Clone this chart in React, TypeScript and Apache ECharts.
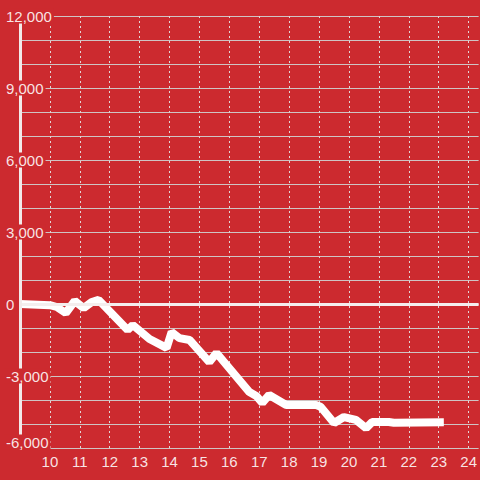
import React, { useEffect, useRef } from "react";
import * as echarts from "echarts";

const xValues = [9, 10.0, 10.23, 10.53, 10.83, 11.13, 11.4, 11.63, 12.6, 12.77, 13.33, 13.9, 14.07, 14.33, 14.67, 15.33, 15.57, 16.67, 16.9, 17.1, 17.33, 17.9, 18.9, 19.05, 19.5, 19.83, 20.23, 20.57, 20.77, 21.33, 21.5, 23.17];
const yValues = [0, -50, -125, -375, 125, -170, 80, 170, -1080, -875, -1460, -1830, -1170, -1420, -1500, -2420, -2040, -3670, -3830, -4120, -3790, -4210, -4210, -4280, -4960, -4710, -4830, -5170, -4920, -4920, -4950, -4930];

const yTickMin = -6000;
const yTickMax = 12000;
const yTickStep = 3000;
const xTickMin = 9;
const xTickMax = 24.3333;
const xTickStep = 1;

const BG = "#cc2a2f";
const TEXT = "rgba(255,255,255,0.88)";
const FONT = "Liberation Sans, Arial, sans-serif";

export default function App() {
  const ref = useRef<HTMLDivElement>(null);
  useEffect(() => {
    if (!ref.current) return;
    const chart = echarts.init(ref.current, null, { renderer: "svg" });
    const data = xValues.map((x, i) => [x, yValues[i]]);
    chart.setOption({
      animation: false,
      backgroundColor: BG,
      grid: { left: 20, top: 16, right: 0, bottom: 32, containLabel: false },
      xAxis: {
        type: "value",
        min: xTickMin,
        max: xTickMax,
        interval: xTickStep,
        axisLine: { show: false },
        axisTick: { show: false },
        axisLabel: {
          color: TEXT,
          fontSize: 15,
          fontFamily: FONT,
          margin: 6,
          showMinLabel: false,
          showMaxLabel: false,
        },
        splitLine: {
          show: true,
          showMinLine: false,
          showMaxLine: false,
          lineStyle: { color: "#e2d6d6", width: 1, type: [2, 3] },
        },
      },
      yAxis: [
        {
          type: "value",
          min: yTickMin,
          max: yTickMax,
          interval: yTickStep,
          z: 0,
          axisLine: { show: false },
          axisTick: { show: false },
          axisLabel: { show: false },
          splitLine: { show: true, lineStyle: { color: "#cfc4c4", width: 1 } },
          minorTick: { show: false, splitNumber: 3 },
          minorSplitLine: { show: true, lineStyle: { color: "#cfc4c4", width: 1 } },
        },
        {
          type: "value",
          min: yTickMin,
          max: yTickMax,
          interval: yTickStep,
          position: "left",
          z: 5,
          axisLine: { show: true, onZero: false, lineStyle: { color: "#f2eaea", width: 3 } },
          axisTick: { show: false },
          splitLine: { show: false },
          axisLabel: {
            color: TEXT,
            fontSize: 15,
            fontFamily: FONT,
            align: "left",
            margin: 16,
            formatter: (v: number) =>
              v === yTickMin
                ? "{a|" + v.toLocaleString("en-US") + "}\n{s| }"
                : "{a|" + v.toLocaleString("en-US") + "}",
            rich: {
              a: {
                color: TEXT,
                fontSize: 15,
                fontFamily: FONT,
                backgroundColor: BG,
                padding: [0, 2],
              },
              s: { fontSize: 8, height: 12, lineHeight: 12 },
            },
          },
        },
      ],
      series: [
        {
          type: "line",
          yAxisIndex: 0,
          data,
          symbol: "none",
          lineStyle: { color: "#ffffff", width: 8 },
          markLine: {
            silent: true,
            symbol: ["none", "none"],
            label: { show: false },
            lineStyle: { color: "#f4eeee", width: 3, type: "solid" },
            data: [{ yAxis: 0 }],
          },
        },
      ],
    });
    return () => chart.dispose();
  }, []);
  return (
    <div
      ref={ref}
      style={{ position: "fixed", left: 0, top: 0, width: 480, height: 480, background: BG }}
    />
  );
}
